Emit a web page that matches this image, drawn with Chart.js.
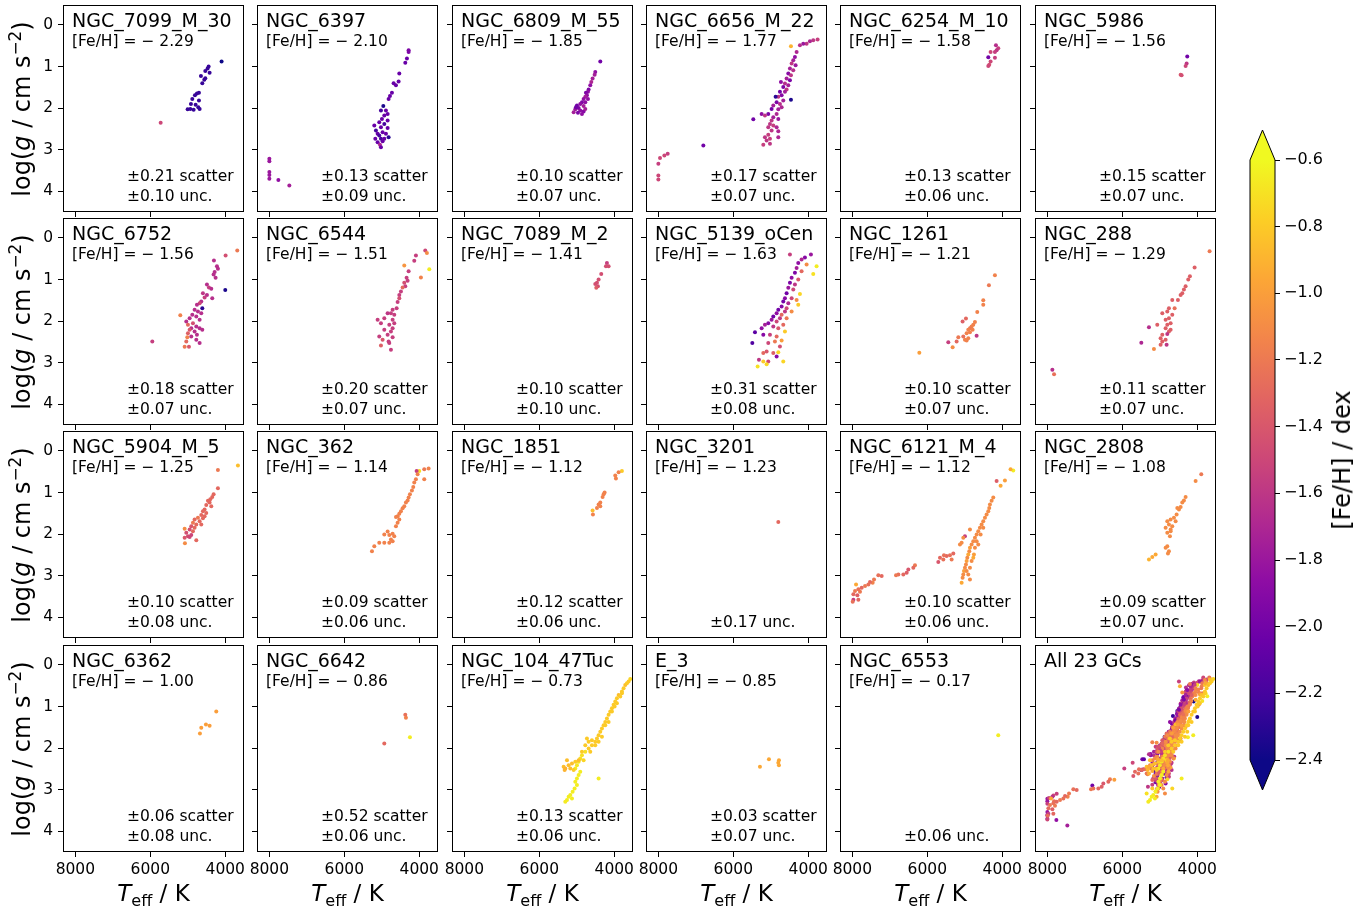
<!DOCTYPE html>
<html>
<head>
<meta charset="utf-8">
<script src="https://cdn.jsdelivr.net/npm/chart.js@4.4.0/dist/chart.umd.min.js"></script>
<style>
body { margin: 0; background: #fff; font-family: 'DejaVu Sans', sans-serif; }
#fig { position: relative; width: 1366px; height: 911px; overflow: hidden; background: #fff; }
#fig canvas { position: absolute; }
.txt { position: absolute; white-space: nowrap; color: #000; line-height: 1; }
.title { font-size: 19px; }
.small { font-size: 15.5px; }
.axlab { font-size: 23px; transform: translate(-50%, -50%); }
.ylab { font-size: 24px; transform: translate(-50%, -50%) rotate(-90deg); }
.axlab sup, .axlab sub { font-size: 70%; line-height: 0; }
</style>
</head>
<body>
<div id="fig"></div>
<script>
// each star: [Teff, logg, FeH]; FeH left out = cluster default (starFeH)
const stars_NGC_7099 = [[4098,0.88,-2.4],[4444,1.00],[4471,1.05],[4418,1.15],[4533,1.11],[4649,1.23],[4533,1.28],[4560,1.32],[4613,1.40],[4702,1.63],[4756,1.65],[4809,1.69],[4880,1.78],[4702,1.82],[4916,1.90],[4791,1.92],[5004,2.03],[4933,2.02],[4844,2.04],[4720,1.98],[4684,2.02],[5724,2.35,-1.5]];
const stars_NGC_6397 = [[4284,0.61,-1.95],[4284,0.65,-1.95],[4329,0.81],[4373,0.91],[4533,1.17],[4551,1.36],[4684,1.40],[4622,1.45],[4729,1.63],[4782,1.71],[4818,1.78],[4960,1.95,-2.35],[5022,2.06,-2.2],[4889,2.06],[4844,2.14],[4933,2.18],[4996,2.26],[4844,2.30],[5067,2.34],[4933,2.38,-2.2],[5200,2.42],[5022,2.46],[4844,2.48],[5156,2.54,-2.2],[4978,2.58],[5111,2.62],[4818,2.70,-2.3],[5173,2.74],[5022,2.74,-2.2],[5111,2.82],[5049,2.88,-1.7],[5022,2.94],[4889,2.62],[5067,2.66,-2.2],[4933,2.74],[4978,2.80],[8000,3.22,-1.8],[8000,3.28,-1.8],[8000,3.54,-1.8],[8000,3.61,-1.8],[8000,3.70,-1.8],[7760,3.73,-1.85],[7467,3.86,-1.75]];
const stars_NGC_6809 = [[4373,0.88,-2.0],[4507,1.13],[4524,1.20,-1.75],[4578,1.29,-1.75],[4613,1.37,-1.7],[4640,1.45],[4684,1.55,-1.95],[4702,1.61],[4756,1.63,-1.95],[4729,1.69],[4773,1.73,-1.75],[4818,1.78],[4702,1.78],[4862,1.86,-1.95],[4773,1.86],[4907,1.90],[4996,1.94,-2.0],[4818,1.95,-1.75],[4951,2.00,-1.95],[5040,2.03,-1.8],[4907,2.06],[4818,2.08,-1.9],[5084,2.10,-1.75],[4969,2.11,-1.95],[4862,2.14],[4773,2.02,-1.75],[5022,1.98,-2.0]];
const stars_NGC_6656 = [[3751,0.35,-1.55],[3867,0.37,-1.6],[3956,0.39,-1.7],[4044,0.45,-1.6],[4133,0.45,-1.8],[4222,0.49,-1.65],[4462,0.51,-0.9],[4311,0.65,-1.7],[4356,0.77,-1.85],[4400,0.85],[4444,0.93,-1.6],[4338,0.97,-1.8],[4489,1.05],[4400,1.09,-1.65],[4533,1.17,-1.9],[4462,1.21,-1.6],[4578,1.29],[4489,1.33,-1.95],[4622,1.41,-1.65],[4729,1.37,-1.85],[4533,1.45],[4667,1.49,-1.95],[4578,1.55,-1.6],[4756,1.61,-2.0],[4622,1.61],[4711,1.69,-1.9],[4800,1.73,-1.6],[4462,1.80,-2.35],[4871,1.73,-2.3],[4667,1.82],[4844,1.86,-1.95],[4756,1.90,-1.65],[4933,1.94],[4711,1.98,-1.7],[4978,2.02,-2.0],[4800,2.03],[5244,2.14,-1.85],[5067,2.14,-1.95],[4844,2.14,-1.7],[5156,2.18,-1.6],[4933,2.22],[5467,2.27,-2.0],[4978,2.30,-1.6],[4800,2.26,-1.8],[5022,2.38,-1.6],[4933,2.42,-1.55],[5067,2.46,-1.6],[4844,2.46,-1.7],[4978,2.54,-1.6],[4800,2.56,-1.7],[5067,2.64,-1.55],[5156,2.70,-1.6],[5022,2.74,-1.55],[4800,2.70,-1.7],[5111,2.78,-1.6],[5200,2.88,-1.55],[5022,2.86,-1.6],[6800,2.90,-2.0],[7751,3.10,-1.55],[7840,3.14,-1.5],[7956,3.20,-1.5],[8000,3.34,-1.55],[8000,3.62,-1.5],[8000,3.72,-1.5]];
const stars_NGC_6254 = [[4169,0.49,-1.65],[4107,0.56],[4151,0.61,-1.6],[4196,0.65],[4311,0.65,-1.5],[4373,0.78,-2.0],[4196,0.79],[4311,0.88,-1.5],[4347,0.96,-1.45],[4373,0.99,-1.5]];
const stars_NGC_5986 = [[4267,0.76,-2.0],[4284,0.93,-1.6],[4311,0.99],[4444,1.20,-1.4],[4418,1.21,-1.45]];
const stars_NGC_6752 = [[3680,0.30,-1.2],[3991,0.42,-1.45],[4302,0.54],[4222,0.68],[4196,0.74],[4284,0.82],[4311,0.88],[4258,0.96],[4489,1.12],[4436,1.19,-1.55],[4373,1.22],[4596,1.33,-1.6],[4489,1.37],[4551,1.43,-1.55],[4347,1.45],[4640,1.53],[4684,1.57,-1.5],[4756,1.61],[4613,1.69,-2.3],[4818,1.73],[4729,1.77],[4640,1.81],[4880,1.85],[5200,1.86,-1.15],[4773,1.89],[4951,1.93],[4684,1.97],[5040,2.01],[4862,2.05,-1.45],[4996,2.09,-1.3],[4773,2.13],[4907,2.17],[4684,2.17],[4951,2.21,-1.4],[4818,2.25],[4613,2.21],[4996,2.29,-1.35],[4756,2.33],[4907,2.37],[5013,2.39,-1.15],[4773,2.45],[5040,2.49,-1.3],[4684,2.53],[5084,2.62,-1.2],[4969,2.62,-1.4],[4000,1.25,-2.35],[5947,2.49,-1.55]];
const stars_NGC_6544 = [[3840,0.30,-1.5],[3796,0.36,-1.1],[3733,0.75,-0.65],[3956,0.95,-1.15],[4089,0.42],[4133,0.55],[4400,0.66,-1.05],[4284,0.80],[4338,0.96],[4311,1.03],[4400,1.08,-1.45],[4373,1.16],[4444,1.19,-1.3],[4489,1.29],[4533,1.37],[4533,1.45,-1.45],[4578,1.54],[4604,1.69],[4711,1.73],[4756,1.81],[4667,1.85],[4844,1.81,-1.6],[4711,1.97],[4667,2.05],[4933,1.93],[5111,1.97],[5022,2.05],[4800,2.09],[4711,2.17],[4933,2.21],[4756,2.25],[4844,2.33],[5067,2.37],[4711,2.39],[4978,2.45,-1.4],[4818,2.49],[5022,2.59,-1.35],[4756,2.69],[4800,2.53]];
const stars_NGC_7089 = [[4196,0.60,-1.55],[4151,0.68],[4222,0.68],[4347,0.87],[4418,1.00],[4462,1.08],[4507,1.11],[4436,1.16],[4480,1.20,-1.35]];
const stars_NGC_5139 = [[3929,0.40],[4089,0.47,-1.9],[4178,0.52,-1.7],[4267,0.60,-1.85],[4044,0.64,-1.1],[3778,0.68,-0.65],[3867,0.87,-0.7],[4311,0.72,-1.75],[4356,0.84,-1.95],[4178,0.80,-1.3],[4444,0.96,-1.85],[4267,1.00,-1.4],[4489,1.08,-1.95],[4356,1.12,-1.6],[4533,1.20,-1.8],[4400,1.24,-1.5],[4578,1.33,-2.0],[4222,1.35,-0.75],[4622,1.45,-1.9],[4444,1.45,-1.5],[4311,1.49,-1.1],[4667,1.53,-2.0],[4533,1.57,-1.7],[4267,1.61,-0.8],[4711,1.65,-1.9],[4578,1.69,-1.5],[4800,1.73,-2.0],[4622,1.77,-1.6],[4444,1.77,-1.1],[4844,1.81,-1.85],[4711,1.85,-1.3],[4933,1.89,-2.0],[4756,1.93,-1.6],[4578,1.93,-1.2],[4978,1.97,-1.8],[4844,2.01,-1.5],[5067,2.05,-1.9],[4667,2.09,-1.3],[5156,2.09,-1.75],[4933,2.13,-1.6],[5244,2.17,-1.85],[4800,2.17,-1.4],[4622,2.25,-0.8],[5422,2.27,-2.1],[5200,2.33,-1.9],[5022,2.33,-1.55],[4844,2.37,-1.3],[5493,2.53,-2.15],[5067,2.53,-1.5],[4889,2.49,-1.2],[4711,2.47,-1.0],[4756,2.61,-1.45],[5111,2.73,-1.4],[4800,2.75,-0.75],[4933,2.77,-1.35],[5200,2.77,-1.3],[4844,2.85,-1.9],[5316,2.93,-1.6],[5067,2.97,-1.5],[5200,2.97,-0.8],[4667,2.97,-0.75],[5351,3.09,-0.7],[5111,3.04,-0.75],[4489,0.40,-1.55]];
const stars_NGC_1261 = [[4196,0.90],[4356,1.14,-1.2],[4507,1.50],[4507,1.61],[4667,1.78],[4969,1.94,-1.3],[5058,2.01,-1.35],[4729,2.02],[4773,2.09],[4818,2.13],[4862,2.17,-1.2],[4907,2.21],[4791,2.21],[4862,2.27],[4951,2.29],[4684,2.35,-1.6],[5040,2.37,-1.25],[5173,2.39,-1.2],[4907,2.41],[4996,2.45],[4951,2.47],[5440,2.51,-1.55],[5218,2.49,-1.3],[5324,2.63,-1.1],[6213,2.76,-1.0]];
const stars_NGC_288 = [[3671,0.32,-1.2],[4071,0.71],[4196,0.92],[4240,1.00],[4311,1.16],[4356,1.24],[4400,1.33],[4444,1.37],[4516,1.49],[4667,1.49],[4604,1.69,-1.25],[4756,1.69],[4800,1.77],[4933,1.81],[4667,1.85],[4756,1.93],[4844,1.97],[4711,2.05],[5067,2.09],[4800,2.09],[5289,2.15,-1.65],[4844,2.17],[4711,2.21],[4756,2.25],[4933,2.33],[4800,2.31,-1.6],[4978,2.41],[4844,2.45],[4933,2.49],[5493,2.52,-1.7],[4818,2.57,-1.6],[4978,2.57],[5156,2.67,-1.1],[7867,3.17,-1.65],[7822,3.28,-1.25]];
const stars_NGC_5904 = [[3662,0.35,-0.85],[4196,0.46,-1.2],[4196,0.90],[4311,1.04],[4347,1.11],[4400,1.16],[4462,1.20],[4418,1.24],[4507,1.30],[4373,1.33],[4551,1.41],[4596,1.45],[4507,1.49],[4640,1.54],[4551,1.57],[4729,1.61,-1.2],[4596,1.62],[4818,1.65],[4684,1.69],[4862,1.73,-1.2],[4773,1.77],[4640,1.77],[4907,1.81,-1.4],[4818,1.85],[5084,1.87,-1.1],[4951,1.89,-1.45],[4862,1.93],[5040,1.97,-1.45],[4907,2.02,-1.5],[4996,2.05,-1.45],[5084,2.09,-1.4],[4951,2.07,-1.5],[4773,2.15],[5076,2.22,-1.1]];
const stars_NGC_362 = [[3751,0.42],[3867,0.44,-1.2],[4000,0.48,-0.7],[4071,0.48,-1.55],[3867,0.68],[4044,0.56],[4089,0.68],[4133,0.76],[4160,0.87],[4196,0.95],[4249,1.04],[4284,1.12],[4311,1.19],[4356,1.24],[4400,1.33],[4444,1.38],[4489,1.45],[4533,1.51],[4578,1.57],[4622,1.59],[4533,1.65],[4578,1.73],[4622,1.81],[4844,1.94],[4711,1.99],[4800,2.02],[4667,2.05],[4933,2.01],[4756,2.13],[4711,2.17],[5067,2.21],[4933,2.21],[5200,2.29],[5262,2.41],[4800,2.21]];
const stars_NGC_1851 = [[3796,0.48,-0.8],[3884,0.51],[3973,0.59],[3956,0.66],[4258,1.00],[4284,1.04],[4311,1.11],[4373,1.24],[4418,1.29],[4373,1.33],[4462,1.37],[4578,1.43,-0.85],[4569,1.53]];
const stars_NGC_3201 = [[4800,1.71]];
const stars_NGC_6121 = [[3707,0.47,-0.65],[3778,0.44,-0.95],[3929,0.71,-1.0],[4044,0.84,-0.95],[4151,0.72,-1.35],[4240,1.12],[4284,1.20],[4329,1.29],[4347,1.37],[4373,1.45],[4418,1.53],[4462,1.61],[4507,1.69],[4551,1.77],[4596,1.85],[4640,1.93],[4684,2.01],[4729,2.09],[4773,2.17],[4818,2.25],[4862,2.33,-1.0],[4880,2.41],[4907,2.49,-0.95],[4933,2.57],[4951,2.65,-1.0],[4969,2.73],[4996,2.81],[5022,2.89,-1.0],[5040,2.97],[5058,3.05],[5084,3.17,-0.95],[4684,2.17],[4729,2.33],[4756,2.49,-1.0],[4818,2.65],[4862,2.81],[4907,2.97],[4507,1.85],[4578,2.01],[4640,2.25],[4773,2.57,-0.95],[4951,2.89],[4862,1.89],[5084,2.21],[5129,2.25],[4996,2.05,-1.55],[5040,2.09],[4862,3.09],[5307,2.47,-1.3],[5396,2.51,-1.25],[5484,2.53,-1.3],[5556,2.51,-1.25],[5662,2.57,-1.3],[5707,2.67,-1.4],[5573,2.61,-1.25],[5351,2.61,-1.2],[6329,2.75,-1.2],[6373,2.81,-1.3],[6507,2.85,-1.4],[6551,2.93,-1.35],[6640,2.97,-1.3],[6773,2.97,-1.25],[6835,2.99,-1.2],[7218,3.01,-1.3],[7307,2.99,-1.25],[7422,3.09,-1.2],[7458,3.17,-1.15],[7529,3.15,-1.3],[7573,3.21,-1.25],[7662,3.25,-1.2],[7751,3.29,-1.3],[7840,3.33,-1.25],[7929,3.37,-1.2],[7973,3.45,-1.3],[7867,3.47,-1.35],[7796,3.39,-1.2],[7973,3.58,-1.55],[7991,3.63,-1.25],[7840,3.58,-1.3],[7902,3.21,-0.95]];
const stars_NGC_2808 = [[3893,0.56,-1.2],[4044,0.72],[4311,1.11],[4356,1.19],[4400,1.24],[4444,1.35],[4533,1.37],[4489,1.41],[4551,1.53],[4622,1.61],[4711,1.65],[4800,1.69],[4578,1.69],[4756,1.77],[4667,1.81],[4844,1.85],[4711,1.89],[4800,1.97],[4729,2.05],[4800,2.29],[4844,2.33],[4756,2.41],[4782,2.47],[5111,2.49,-0.95],[5200,2.55,-0.95],[5289,2.61,-0.9],[4711,1.93]];
const stars_NGC_6362 = [[4240,1.12],[4516,1.43],[4418,1.46],[4640,1.51],[4676,1.65]];
const stars_NGC_6642 = [[4373,1.20],[4356,1.27,-1.15],[4249,1.74,-0.65],[4933,1.89,-1.3]];
const stars_NGC_104 = [[3573,0.34,-0.75],[3618,0.40],[3707,0.48,-0.85],[3751,0.56],[3796,0.64],[3884,0.72,-0.85],[3929,0.80],[3973,0.88],[4018,0.96],[4062,1.04],[4107,1.12],[4151,1.20],[4196,1.29],[4240,1.37],[4284,1.45],[4329,1.53],[4373,1.61],[4418,1.69],[4462,1.77],[4507,1.85],[4596,1.93],[4684,2.01],[4773,2.09,-0.7],[4862,2.17,-0.7],[4907,2.25,-0.7],[4951,2.33,-0.68],[4996,2.41,-0.68],[5040,2.49,-0.66],[4907,2.57,-0.65],[4951,2.65,-0.65],[4996,2.73,-0.65],[5040,2.81,-0.65],[4996,2.89,-0.65],[5058,2.97,-0.65],[5111,3.05,-0.65],[5173,3.13,-0.65],[5129,3.21,-0.65],[5262,3.25,-0.65],[5307,3.29,-0.66],[5218,3.17,-0.65],[5351,2.45,-0.85],[5307,2.49,-0.9],[5218,2.41,-0.85],[5129,2.37,-0.85],[5040,2.33,-0.8],[4951,2.29,-0.85],[4862,2.09],[5173,2.49,-0.85],[5084,2.53,-0.8],[5262,2.29,-0.85],[5324,2.53,-0.9],[4684,1.85],[4596,1.81],[4507,1.93],[4418,1.85],[4329,1.73],[4240,1.45],[4151,1.37],[4062,1.12],[3991,1.00],[3929,0.92],[3840,0.76],[3796,0.68],[3662,0.44],[4773,1.93],[4729,1.77],[4640,2.09],[4818,2.29,-0.75],[4418,2.73,-0.65]];
const stars_E_3 = [[5049,2.27],[5289,2.45],[4782,2.29],[4800,2.35],[4782,2.41]];
const stars_NGC_6553 = [[4107,1.69]];

const clusterNames = ['NGC_7099_M_30', 'NGC_6397', 'NGC_6809_M_55', 'NGC_6656_M_22', 'NGC_6254_M_10', 'NGC_5986',
    'NGC_6752', 'NGC_6544', 'NGC_7089_M_2', 'NGC_5139_oCen', 'NGC_1261', 'NGC_288',
    'NGC_5904_M_5', 'NGC_362', 'NGC_1851', 'NGC_3201', 'NGC_6121_M_4', 'NGC_2808',
    'NGC_6362', 'NGC_6642', 'NGC_104_47Tuc', 'E_3', 'NGC_6553'];
const clusterFeH = [-2.29, -2.10, -1.85, -1.77, -1.58, -1.56, -1.56, -1.51, -1.41, -1.63, -1.21, -1.29,
    -1.25, -1.14, -1.12, -1.23, -1.12, -1.08, -1.00, -0.86, -0.73, -0.85, -0.17];
const scatterVals = [0.21, 0.13, 0.10, 0.17, 0.13, 0.15, 0.18, 0.20, 0.10, 0.31, 0.10, 0.11,
    0.10, 0.09, 0.12, null, 0.10, 0.09, 0.06, 0.52, 0.13, 0.03, null];
const uncVals = [0.10, 0.09, 0.07, 0.07, 0.06, 0.07, 0.07, 0.07, 0.10, 0.08, 0.07, 0.07,
    0.08, 0.06, 0.06, 0.17, 0.06, 0.07, 0.08, 0.06, 0.06, 0.07, 0.06];
const starFeH = [-2.25, -2.05, -1.85, -1.75, -1.55, -1.5, -1.65, -1.55, -1.45, -1.8, -1.15, -1.35,
    -1.3, -1.15, -1.15, -1.3, -1.1, -1.1, -1.0, -1.25, -0.8, -0.95, -0.65];
const clusterStars = [stars_NGC_7099, stars_NGC_6397, stars_NGC_6809, stars_NGC_6656, stars_NGC_6254, stars_NGC_5986,
    stars_NGC_6752, stars_NGC_6544, stars_NGC_7089, stars_NGC_5139, stars_NGC_1261, stars_NGC_288,
    stars_NGC_5904, stars_NGC_362, stars_NGC_1851, stars_NGC_3201, stars_NGC_6121, stars_NGC_2808,
    stars_NGC_6362, stars_NGC_6642, stars_NGC_104, stars_E_3, stars_NGC_6553];
const allTitle = 'All 23 GCs';

const teffTicks = [4000, 6000, 8000];
const loggTicks = [0, 1, 2, 3, 4];
const cbarTicks = [-2.4, -2.2, -2.0, -1.8, -1.6, -1.4, -1.2, -1.0, -0.8, -0.6];

// plot settings
const TEFF_MIN = 3500, TEFF_MAX = 8330;
const LOGG_MIN = -0.48, LOGG_MAX = 4.5;
const FEH_MIN = -2.4, FEH_MAX = -0.6;
const FONT = "'DejaVu Sans', sans-serif";
const PLASMA = ['#0d0887', '#41049d', '#6a00a8', '#8f0da4', '#b12a90', '#cc4778',
    '#e16462', '#f2844b', '#fca636', '#fcce25', '#f0f921'];

const PANEL_W = 181, PANEL_H = 207;
const PAD_L = 50, PAD_T = 6, PAD_R = 8, PAD_B = 36;
const fig = document.getElementById('fig');

function hexRgb(h) {
    return [parseInt(h.slice(1, 3), 16), parseInt(h.slice(3, 5), 16), parseInt(h.slice(5, 7), 16)];
}

function fehColor(feh) {
    let t = (feh - FEH_MIN) / (FEH_MAX - FEH_MIN);
    t = Math.max(0, Math.min(1, t)) * (PLASMA.length - 1);
    const i = Math.min(Math.floor(t), PLASMA.length - 2);
    const f = t - i;
    const a = hexRgb(PLASMA[i]), b = hexRgb(PLASMA[i + 1]);
    const c = a.map((v, k) => Math.round(v + (b[k] - v) * f));
    return `rgb(${c[0]},${c[1]},${c[2]})`;
}

function toPoints(stars, defFeh) {
    return stars.map((s) => ({ x: s[0], y: s[1], feh: s.length > 2 ? s[2] : defFeh }));
}

function minusNum(v, digits) {
    return (v < 0 ? '\u2212' : '') + Math.abs(v).toFixed(digits);
}

function addText(html, cls, style) {
    const d = document.createElement('div');
    d.className = 'txt ' + cls;
    d.innerHTML = html;
    Object.assign(d.style, style);
    fig.appendChild(d);
    return d;
}

const framePlugin = {
    id: 'frame',
    afterDraw(chart) {
        const { ctx, chartArea: a } = chart;
        ctx.save();
        ctx.strokeStyle = '#000';
        ctx.lineWidth = 1;
        ctx.strokeRect(Math.round(a.left) + 0.5, Math.round(a.top) + 0.5,
            Math.round(a.right - a.left) - 1, Math.round(a.bottom - a.top) - 1);
        ctx.restore();
    },
};

function makePanel(idx, points) {
    const col = idx % 6;
    const row = Math.floor(idx / 6);
    const left = Math.round(63 + col * 194.3);
    const top = Math.round(5 + row * 213.2);

    const canvas = document.createElement('canvas');
    canvas.width = PANEL_W + PAD_L + PAD_R;
    canvas.height = PANEL_H + PAD_T + PAD_B;
    canvas.style.left = (left - PAD_L) + 'px';
    canvas.style.top = (top - PAD_T) + 'px';
    fig.appendChild(canvas);

    new Chart(canvas, {
        type: 'scatter',
        data: {
            datasets: [{
                data: points,
                pointRadius: 2,
                pointHoverRadius: 2,
                pointBorderWidth: 0,
                pointBackgroundColor: (c) => fehColor(c.raw ? c.raw.feh : -1.5),
            }],
        },
        options: {
            responsive: false,
            animation: false,
            events: [],
            layout: { padding: { left: 0, right: PAD_R, top: PAD_T, bottom: 0 } },
            plugins: { legend: { display: false }, tooltip: { enabled: false } },
            scales: {
                x: {
                    type: 'linear',
                    reverse: true,
                    min: TEFF_MIN,
                    max: TEFF_MAX,
                    afterBuildTicks: (s) => { s.ticks = teffTicks.map((v) => ({ value: v })); },
                    afterFit: (s) => { s.height = PAD_B; s.paddingLeft = 0; s.paddingRight = 0; },
                    ticks: {
                        autoSkip: false,
                        maxRotation: 0,
                        padding: 4,
                        color: '#000',
                        font: { family: FONT, size: 15.5 },
                        callback: (v) => (row === 3 ? String(v) : ''),
                    },
                    grid: { drawOnChartArea: false, drawTicks: true, tickLength: 5, color: '#000' },
                    border: { display: false },
                },
                y: {
                    type: 'linear',
                    reverse: true,
                    min: LOGG_MIN,
                    max: LOGG_MAX,
                    afterBuildTicks: (s) => { s.ticks = loggTicks.map((v) => ({ value: v })); },
                    afterFit: (s) => { s.width = PAD_L; s.paddingTop = 0; s.paddingBottom = 0; },
                    ticks: {
                        autoSkip: false,
                        padding: 5,
                        color: '#000',
                        font: { family: FONT, size: 15.5 },
                        callback: (v) => (col === 0 ? String(v) : ''),
                    },
                    grid: { drawOnChartArea: false, drawTicks: true, tickLength: 5, color: '#000' },
                    border: { display: false },
                },
            },
        },
        plugins: [framePlugin],
    });

    return { left, top, col, row };
}

// 23 clusters
clusterNames.forEach((name, i) => {
    const p = makePanel(i, toPoints(clusterStars[i], starFeH[i]));
    addText(name, 'title', { left: (p.left + 9) + 'px', top: (p.top + 5.5) + 'px' });
    addText('[Fe/H] = ' + minusNum(clusterFeH[i], 2).replace('\u2212', '\u2212 '), 'small',
        { left: (p.left + 9) + 'px', top: (p.top + 28.5) + 'px' });
    if (scatterVals[i] !== null) {
        addText('\u00b1' + scatterVals[i].toFixed(2) + ' scatter', 'small',
            { left: (p.left + 64) + 'px', top: (p.top + 163.5) + 'px' });
    }
    addText('\u00b1' + uncVals[i].toFixed(2) + ' unc.', 'small',
        { left: (p.left + 64) + 'px', top: (p.top + 183.5) + 'px' });
});

// combined panel
const allPoints = [];
clusterStars.forEach((stars, i) => { allPoints.push(...toPoints(stars, starFeH[i])); });
const pAll = makePanel(23, allPoints);
addText(allTitle, 'title', { left: (pAll.left + 9) + 'px', top: (pAll.top + 5.5) + 'px' });

// axis labels
for (let r = 0; r < 4; r++) {
    const cy = Math.round(5 + r * 213.2) + PANEL_H / 2;
    addText('log(<i>g</i> / cm s<sup>\u22122</sup>)', 'axlab ylab', { left: '22px', top: cy + 'px' });
}
for (let c = 0; c < 6; c++) {
    const cx = Math.round(63 + c * 194.3) + PANEL_W / 2;
    addText('<i>T</i><sub>eff</sub> / K', 'axlab', { left: cx + 'px', top: '893px' });
}

// colour bar
const CB_LEFT = 1250, CB_TOP = 160, CB_W = 25, CB_H = 600, CB_EXT = 30;
const cbarPlugin = {
    id: 'cbar',
    beforeDatasetsDraw(chart) {
        const { ctx, chartArea: a } = chart;
        const g = ctx.createLinearGradient(0, a.bottom, 0, a.top);
        PLASMA.forEach((c, i) => g.addColorStop(i / (PLASMA.length - 1), c));
        ctx.save();
        ctx.fillStyle = g;
        ctx.fillRect(a.left, a.top, a.right - a.left, a.bottom - a.top);
        const mid = (a.left + a.right) / 2;
        ctx.fillStyle = PLASMA[PLASMA.length - 1];
        ctx.beginPath();
        ctx.moveTo(a.left, a.top);
        ctx.lineTo(mid, a.top - CB_EXT);
        ctx.lineTo(a.right, a.top);
        ctx.closePath();
        ctx.fill();
        ctx.fillStyle = PLASMA[0];
        ctx.beginPath();
        ctx.moveTo(a.left, a.bottom);
        ctx.lineTo(mid, a.bottom + CB_EXT);
        ctx.lineTo(a.right, a.bottom);
        ctx.closePath();
        ctx.fill();
        ctx.strokeStyle = '#000';
        ctx.lineWidth = 1;
        ctx.beginPath();
        ctx.moveTo(a.left, a.top);
        ctx.lineTo(mid, a.top - CB_EXT);
        ctx.lineTo(a.right, a.top);
        ctx.lineTo(a.right, a.bottom);
        ctx.lineTo(mid, a.bottom + CB_EXT);
        ctx.lineTo(a.left, a.bottom);
        ctx.closePath();
        ctx.stroke();
        ctx.restore();
    },
};

const cbCanvas = document.createElement('canvas');
cbCanvas.width = 10 + CB_W + 80;
cbCanvas.height = 40 + CB_H + 40;
cbCanvas.style.left = (CB_LEFT - 10) + 'px';
cbCanvas.style.top = (CB_TOP - 40) + 'px';
fig.appendChild(cbCanvas);

new Chart(cbCanvas, {
    type: 'scatter',
    data: { datasets: [] },
    options: {
        responsive: false,
        animation: false,
        events: [],
        layout: { padding: { left: 10, right: 0, top: 40, bottom: 40 } },
        plugins: { legend: { display: false }, tooltip: { enabled: false } },
        scales: {
            x: { display: false, min: 0, max: 1 },
            y: {
                position: 'right',
                min: FEH_MIN,
                max: FEH_MAX,
                afterBuildTicks: (s) => { s.ticks = cbarTicks.map((v) => ({ value: v })); },
                afterFit: (s) => { s.width = 80; s.paddingTop = 0; s.paddingBottom = 0; },
                ticks: {
                    autoSkip: false,
                    padding: 4,
                    color: '#000',
                    font: { family: FONT, size: 16 },
                    callback: (v) => minusNum(v, 1),
                },
                grid: { drawOnChartArea: false, drawTicks: true, tickLength: 5, color: '#000' },
                border: { display: false },
            },
        },
    },
    plugins: [cbarPlugin],
});
addText('[Fe/H] / dex', 'axlab ylab', { left: '1342px', top: '460px' });
</script>
</body>
</html>
